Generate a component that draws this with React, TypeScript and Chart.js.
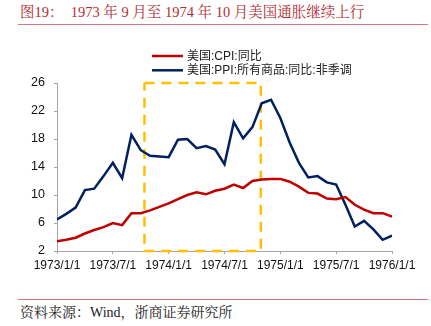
import React, { useEffect, useRef } from 'react';
import { Chart, registerables } from 'chart.js';

Chart.register(...registerables);

// x tick labels (every 6 months)
const tickLabels = ['1973/1/1', '1973/7/1', '1974/1/1', '1974/7/1', '1975/1/1', '1975/7/1', '1976/1/1'];

// Series names
const seriesNames = ['美国:CPI:同比', '美国:PPI:所有商品:同比:非季调'];

// Monthly values (month-end observations, Dec 1972 .. Dec 1975)
const cpi = [3.4, 3.6, 3.9, 4.5, 5.0, 5.4, 6.0, 5.7, 7.4, 7.4, 7.8, 8.3, 8.8, 9.4, 10.0, 10.4, 10.1, 10.6, 10.9, 11.5, 11.0, 12.0, 12.2, 12.3, 12.3, 11.9, 11.2, 10.3, 10.2, 9.5, 9.4, 9.7, 8.6, 7.9, 7.4, 7.4, 6.9];
const ppi = [6.5, 7.3, 8.2, 10.7, 10.9, 12.7, 14.6, 12.4, 18.6, 16.4, 15.6, 15.5, 15.4, 17.9, 18.0, 16.7, 17.0, 16.5, 14.4, 20.4, 18.1, 19.7, 23.1, 23.6, 21.0, 17.5, 14.6, 12.5, 12.7, 11.8, 11.5, 8.6, 5.5, 6.3, 5.1, 3.6, 4.2];

// Highlight box (x in month index, y in %)
const boxX = [9.4, 21.9];
const boxY = [2, 26];

const yMin = 2;
const yMax = 26;

const legendPlugin = {
  id: 'rowLegend',
  afterDraw(chart: any) {
    const ctx = chart.ctx;
    const items = chart.data.datasets.filter((d: any) => !d.hideInLegend);
    ctx.save();
    items.forEach((ds: any, i: number) => {
      const y = 21 + i * 14.3;
      ctx.strokeStyle = ds.borderColor;
      ctx.lineWidth = 2.5;
      ctx.beginPath();
      ctx.moveTo(152, y);
      ctx.lineTo(183, y);
      ctx.stroke();
      ctx.fillStyle = '#222';
      ctx.font = '12px "Liberation Sans", "Noto Sans CJK SC", sans-serif';
      ctx.textBaseline = 'middle';
      ctx.textAlign = 'left';
      ctx.fillText(ds.label, 187, y + 0.5);
    });
    ctx.restore();
  },
};

export default function App() {
  const canvasRef = useRef<HTMLCanvasElement | null>(null);

  useEffect(() => {
    if (!canvasRef.current) return;
    const axisColor = '#A6A6A6';
    const tickFont = { size: 12, family: '"Liberation Sans", Arial, sans-serif' };
    const chart = new Chart(canvasRef.current, {
      type: 'line',
      data: {
        datasets: [
          {
            label: seriesNames[0],
            data: cpi.map((v, i) => ({ x: i, y: v })),
            borderColor: '#C00000',
            backgroundColor: '#C00000',
            borderWidth: 2.5,
            pointRadius: 0,
            tension: 0,
            fill: false,
          },
          {
            label: seriesNames[1],
            data: ppi.map((v, i) => ({ x: i, y: v })),
            borderColor: '#002060',
            backgroundColor: '#002060',
            borderWidth: 2.5,
            pointRadius: 0,
            tension: 0,
            fill: false,
          },
          {
            label: 'box',
            hideInLegend: true,
            data: [
              { x: boxX[0], y: boxY[1] },
              { x: boxX[1], y: boxY[1] },
              { x: boxX[1], y: boxY[0] },
              { x: boxX[0], y: boxY[0] },
              { x: boxX[0], y: boxY[1] },
            ],
            borderColor: '#FFC000',
            borderWidth: 2.5,
            borderDash: [10, 7],
            pointRadius: 0,
            tension: 0,
            fill: false,
            clip: false,
          } as any,
        ],
      },
      options: {
        animation: false,
        responsive: false,
        devicePixelRatio: 1,
        layout: { padding: { top: 48, right: 39, left: 0, bottom: 0 } },
        plugins: {
          legend: { display: false },
          tooltip: { enabled: false },
        },
        scales: {
          x: {
            type: 'linear',
            min: 0,
            max: 36,
            ticks: {
              stepSize: 6,
              autoSkip: false,
              maxRotation: 0,
              padding: 4,
              color: '#111',
              font: tickFont,
              callback: (v: any) => tickLabels[Math.round(Number(v) / 6)] ?? '',
            },
            grid: { drawOnChartArea: false, drawTicks: true, tickLength: 3, color: axisColor },
            border: { display: true, color: axisColor, width: 1 },
            afterFit: (s: any) => {
              s.height = 34;
            },
          },
          y: {
            min: yMin,
            max: yMax,
            ticks: {
              stepSize: 4,
              padding: 9,
              color: '#111',
              font: { size: 12.5, family: '"Liberation Sans", Arial, sans-serif' },
            },
            grid: { drawOnChartArea: false, drawTicks: true, tickLength: 3, color: axisColor },
            border: { display: true, color: axisColor, width: 1 },
            afterFit: (s: any) => {
              s.width = 57;
            },
          },
        },
      } as any,
      plugins: [legendPlugin],
    });
    return () => chart.destroy();
  }, []);

  return (
    <div style={{ position: 'absolute', left: 0, top: 0, width: 431, height: 326, background: '#fff', overflow: 'hidden' }}>
      <div
        style={{
          position: 'absolute',
          left: 20,
          top: 2,
          fontSize: 14.5,
          lineHeight: '20px',
          whiteSpace: 'pre',
          color: '#B22E34',
          fontFamily: '"Liberation Serif", "Noto Serif CJK SC", "Noto Sans CJK SC", serif',
        }}
      >
        {'图19：\u20021973 年 9 月至 1974 年 10 月美国通胀继续上行'}
      </div>
      <div style={{ position: 'absolute', left: 18, top: 24, width: 410, height: 1, background: '#D9777A' }} />
      <canvas ref={canvasRef} width={431} height={250} style={{ position: 'absolute', left: 0, top: 35, width: 431, height: 250 }} />
      <div style={{ position: 'absolute', left: 18, top: 299, width: 410, height: 1, background: '#D9777A' }} />
      <div
        style={{
          position: 'absolute',
          left: 20,
          top: 304,
          fontSize: 14,
          lineHeight: '18px',
          whiteSpace: 'nowrap',
          color: '#222',
          fontFamily: '"Liberation Serif", "Noto Serif CJK SC", "Noto Sans CJK SC", serif',
        }}
      >
        资料来源：Wind，浙商证券研究所
      </div>
    </div>
  );
}
